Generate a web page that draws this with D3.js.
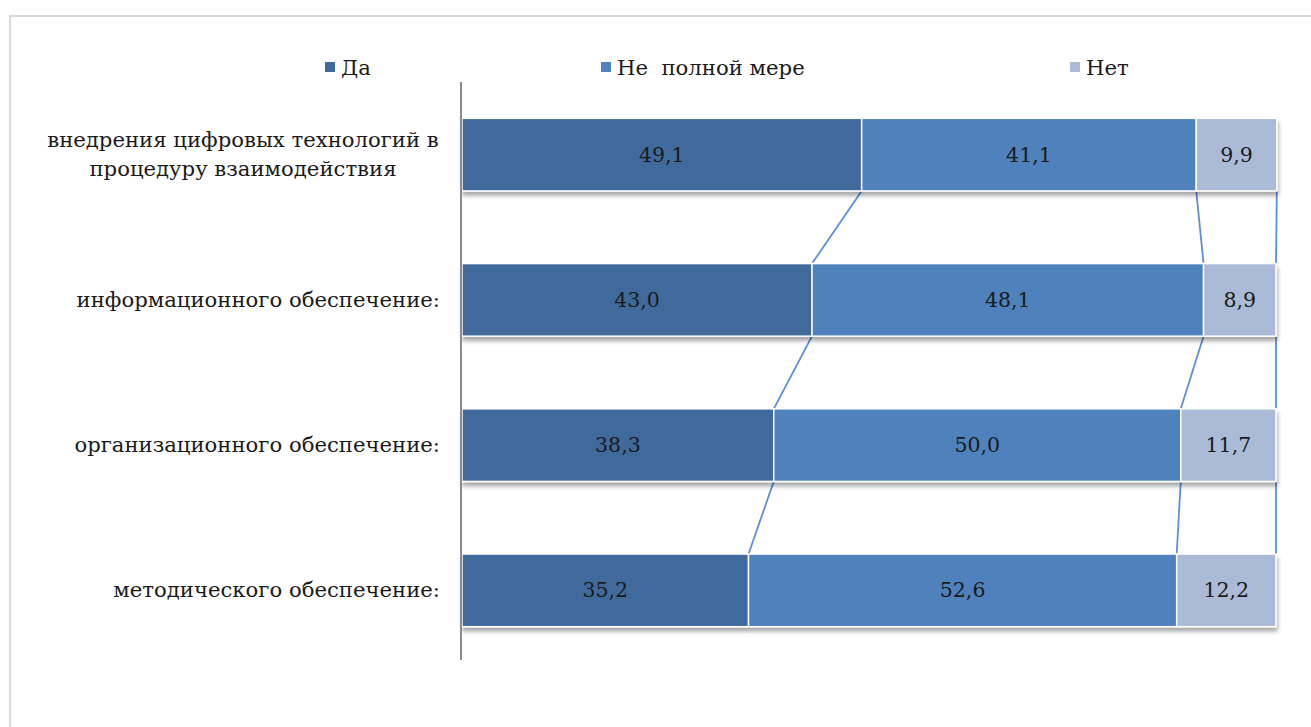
<!DOCTYPE html>
<html><head><meta charset="utf-8">
<script src="https://cdn.jsdelivr.net/npm/d3@7"></script>
<style>body{margin:0;background:#fff;}svg{display:block;}</style>
</head><body>
<svg id="c" width="1311" height="727"></svg>
<script>
const categories = [
  "внедрения цифровых технологий в\nпроцедуру взаимодействия",
  "информационного обеспечение:",
  "организационного обеспечение:",
  "методического обеспечение:"
];
const seriesNames = ["Да", "Не  полной мере", "Нет"];
const valuesDa = [49.1, 43.0, 38.3, 35.2];
const valuesPartly = [41.1, 48.1, 50.0, 52.6];
const valuesNo = [9.9, 8.9, 11.7, 12.2];
const colors = ["#416b9c", "#4f81bd", "#aabad7"];
const connectorColor = "#5a8fd9";
const font = "DejaVu Serif, serif";

const svg = d3.select("#c");
const defs = svg.append("defs");
const f = defs.append("filter").attr("id","sh").attr("x","-5%").attr("y","-20%").attr("width","110%").attr("height","150%");
f.append("feDropShadow").attr("dx",1).attr("dy",4).attr("stdDeviation",2.2).attr("flood-color","#000").attr("flood-opacity",0.35);

// outer chart border
svg.append("rect").attr("x",10).attr("y",16).attr("width",1400).attr("height",800)
  .attr("fill","#fff").attr("stroke","#d9d9d9").attr("stroke-width",2);

const x = d3.scaleLinear().domain([0,100]).range([462,1276]);
const y = d3.scaleBand().domain(categories).range([82,663]).paddingInner(0.5).paddingOuter(0.25);

const allSeries = [valuesDa, valuesPartly, valuesNo];
const stacked = categories.map((c,i)=>{
  let acc = 0;
  return allSeries.map((s,k)=>{ const a=acc; acc+=s[i]; return {cat:c, k, v:s[i], x0:a, x1:acc}; });
});

// connector lines
for (let k=0;k<3;k++){
  for (let i=0;i<categories.length-1;i++){
    const a = stacked[i][k], b = stacked[i+1][k];
    svg.append("line")
      .attr("x1", x(a.x1)).attr("y1", y(a.cat)+y.bandwidth())
      .attr("x2", x(b.x1)).attr("y2", y(b.cat))
      .attr("stroke", connectorColor).attr("stroke-width", 1.8);
  }
}

// bars
const rows = svg.append("g").selectAll("g").data(stacked).join("g").attr("filter","url(#sh)");
rows.selectAll("rect").data(d=>d).join("rect")
  .attr("x", d=>x(d.x0)).attr("y", d=>y(d.cat))
  .attr("width", d=>x(d.x1)-x(d.x0)).attr("height", y.bandwidth())
  .attr("fill", d=>colors[d.k]).attr("stroke","#fff").attr("stroke-width",1.5);

// value labels
const fmt = v => v.toFixed(1).replace(".", ",");
svg.append("g").selectAll("text").data(stacked.flat()).join("text")
  .attr("x", d=>(x(d.x0)+x(d.x1))/2).attr("y", d=>y(d.cat)+y.bandwidth()/2+7)
  .attr("text-anchor","middle").attr("font-family",font).attr("font-size",20.5)
  .attr("fill","#1a1a1a").text(d=>fmt(d.v));

// axis line
const axis = d3.axisLeft(y).tickSize(0).tickFormat("");
svg.append("g").attr("transform","translate(461,0)").call(axis)
  .call(g=>g.select(".domain").attr("stroke","#8c8c8c").attr("stroke-width",2).attr("d","M0,82V660"));

// category labels
categories.forEach(c=>{
  const lines = c.split("\n");
  const cy = y(c)+y.bandwidth()/2;
  const t = svg.append("text").attr("font-family",font).attr("font-size",21.2).attr("fill","#1a1a1a");
  if (lines.length===1){
    t.attr("x",440).attr("y",cy+7).attr("text-anchor","end").text(c);
  } else {
    t.attr("text-anchor","middle");
    const lh = 29;
    lines.forEach((l,j)=>{
      t.append("tspan").attr("x",243).attr("y",cy+7+(j-(lines.length-1)/2)*lh).text(l);
    });
  }
});

// legend
const legendX = [325, 601, 1070];
seriesNames.forEach((n,k)=>{
  svg.append("rect").attr("x",legendX[k]).attr("y",62).attr("width",10).attr("height",10).attr("fill",colors[k]);
  svg.append("text").attr("x",legendX[k]+16).attr("y",75).attr("font-family",font).attr("font-size",21.2)
    .attr("fill","#1a1a1a").attr("xml:space","preserve").style("white-space","pre").text(n);
});
</script>
</body></html>
